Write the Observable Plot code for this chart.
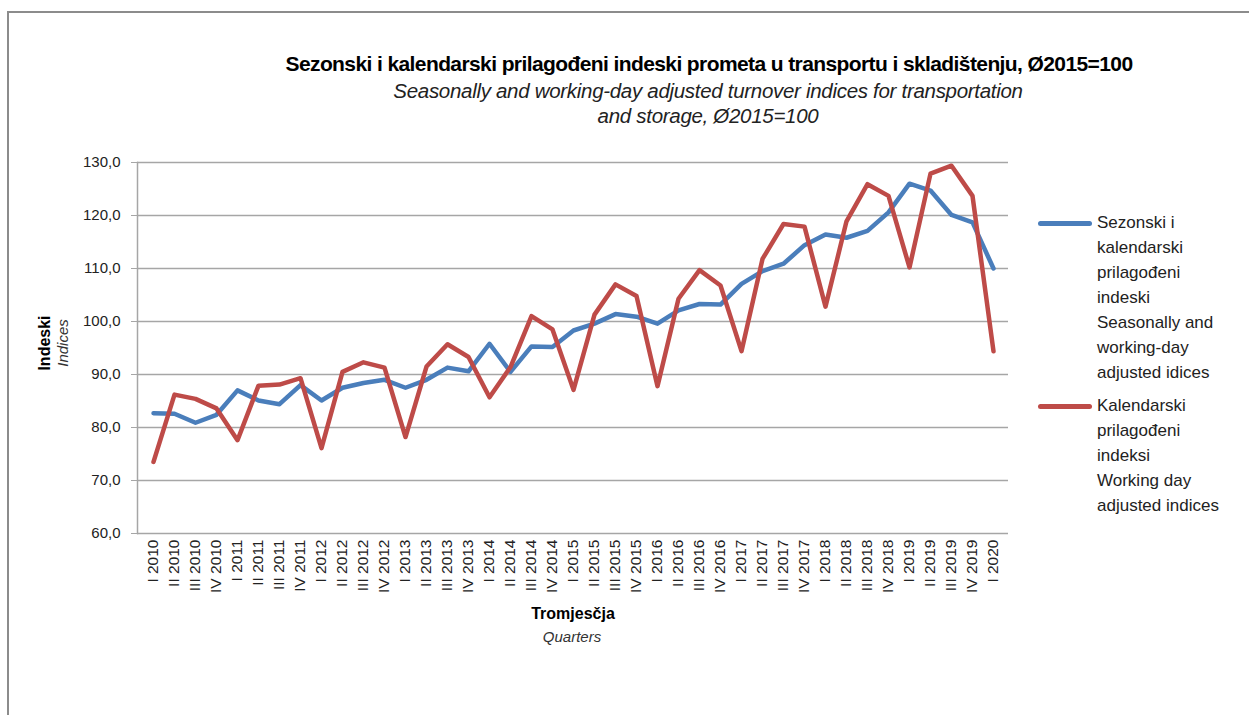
<!DOCTYPE html>
<html>
<head>
<meta charset="utf-8">
<script src="https://cdn.jsdelivr.net/npm/d3@7"></script>
<script src="https://cdn.jsdelivr.net/npm/@observablehq/plot@0.6"></script>
<style>
  html, body { margin: 0; padding: 0; background: #fff; }
  #wrap { position: relative; width: 1249px; height: 715px; overflow: hidden; font-family: "Liberation Sans", Arial, sans-serif; color: #000; }
  #border { position: absolute; left: 7px; top: 11px; width: 1300px; height: 800px; border-left: 2px solid #8c8c8c; border-top: 2px solid #8c8c8c; }
  .t { position: absolute; white-space: nowrap; transform: translateX(-50%); text-align: center; }
  #title { left: 709px; top: 52px; font-family: "Liberation Sans", Arial, sans-serif; font-weight: bold; font-size: 21px; letter-spacing: -0.6px; }
  #sub { left: 708px; top: 78px; font-family: "Liberation Sans", Arial, sans-serif; font-style: italic; font-size: 20.5px; letter-spacing: -0.3px; line-height: 25px; color: #222; }
  #chart { position: absolute; left: 0; top: 0; }
  .ylab { position: absolute; transform-origin: center; white-space: nowrap; }
  #legend { position: absolute; left: 1038px; top: 210px; font-size: 17px; line-height: 25px; color: #222; }
  .item { display: flex; align-items: flex-start; margin-bottom: 8px; }
  .sw { width: 54px; height: 5px; border-radius: 3px; margin-top: 11px; margin-right: 5px; flex: none; }
</style>
</head>
<body>
<div id="wrap">
  <div id="border"></div>
  <div id="chart"></div>
  <div class="t" id="title">Sezonski i kalendarski prilagođeni indeski prometa u transportu i skladištenju, Ø2015=100</div>
  <div class="t" id="sub">Seasonally and working-day adjusted turnover indices for transportation<br>and storage, Ø2015=100</div>
  <div class="ylab" style="left:45px; top:343px; transform: translate(-50%,-50%) rotate(-90deg); font-weight:bold; font-size:16px;">Indeski</div>
  <div class="ylab" style="left:62px; top:343px; transform: translate(-50%,-50%) rotate(-90deg); font-style:italic; font-size:15px; color:#333;">Indices</div>
  <div class="t" style="left:573px; top:605px; font-weight:bold; font-size:16px;">Tromjesčja</div>
  <div class="t" style="left:572px; top:628px; font-style:italic; font-size:15px; color:#333;">Quarters</div>
  <div id="legend"></div>
</div>
<script>
const quarters = [
  "I 2010","II 2010","III 2010","IV 2010",
  "I 2011","II 2011","III 2011","IV 2011",
  "I 2012","II 2012","III 2012","IV 2012",
  "I 2013","II 2013","III 2013","IV 2013",
  "I 2014","II 2014","III 2014","IV 2014",
  "I 2015","II 2015","III 2015","IV 2015",
  "I 2016","II 2016","III 2016","IV 2016",
  "I 2017","II 2017","III 2017","IV 2017",
  "I 2018","II 2018","III 2018","IV 2018",
  "I 2019","II 2019","III 2019","IV 2019",
  "I 2020"
];
const seasonal = [82.7, 82.6, 80.9, 82.4, 87.0, 85.1, 84.4, 88.0, 85.1, 87.5,
  88.4, 89.0, 87.5, 89.0, 91.3, 90.6, 95.8, 90.5, 95.3, 95.2,
  98.3, 99.6, 101.4, 100.9, 99.6, 102.1, 103.3, 103.2, 107.1, 109.5,
  110.9, 114.4, 116.4, 115.8, 117.1, 120.6, 126.0, 124.7, 120.1, 118.7,
  110.0];
const working = [73.5, 86.2, 85.4, 83.6, 77.6, 87.9, 88.1, 89.3, 76.1, 90.5,
  92.3, 91.3, 78.2, 91.5, 95.7, 93.3, 85.7, 91.4, 101.0, 98.5,
  87.1, 101.3, 107.0, 104.8, 87.8, 104.3, 109.7, 106.8, 94.4, 111.8,
  118.4, 117.9, 102.8, 118.9, 125.9, 123.7, 110.2, 127.9, 129.4, 123.7,
  94.4];
const yTicks = [60, 70, 80, 90, 100, 110, 120, 130];
const seriesNames = [
  "Sezonski i<br>kalendarski<br>prilagođeni<br>indeski<br>Seasonally and<br>working-day<br>adjusted idices",
  "Kalendarski<br>prilagođeni<br>indeksi<br>Working day<br>adjusted indices"
];
const seriesColors = ["#4a7ebb", "#be4b48"];

const sData = quarters.map((q, i) => ({q, v: seasonal[i]}));
const wData = quarters.map((q, i) => ({q, v: working[i]}));
const fmt = d => d.toFixed(1).replace(".", ",");

const chart = Plot.plot({
  width: 1249,
  height: 715,
  marginLeft: 137,
  marginRight: 241,
  marginTop: 162,
  marginBottom: 182,
  style: {fontFamily: "'Liberation Sans', Arial, sans-serif", fontSize: "15px", color: "#000", background: "transparent"},
  x: {type: "point", domain: quarters, padding: 0.5, label: null},
  y: {domain: [60, 130], label: null},
  marks: [
    Plot.gridY(yTicks, {stroke: "#a6a6a6", strokeOpacity: 1, strokeWidth: 1.5}),
    Plot.frame({anchor: "left", stroke: "#a6a6a6", strokeWidth: 1.5}),
    Plot.axisY(yTicks, {tickSize: 6, tickPadding: 11, tickFormat: fmt, stroke: "#a6a6a6", fill: "#222", fontSize: 15}),
    Plot.axisX({tickRotate: -90, tickSize: 0, tickPadding: 6, fill: "#222", fontSize: 15.5}),
    Plot.lineY(sData, {x: "q", y: "v", stroke: seriesColors[0], strokeWidth: 4.5}),
    Plot.lineY(wData, {x: "q", y: "v", stroke: seriesColors[1], strokeWidth: 4.5})
  ]
});
document.getElementById("chart").appendChild(chart);

const legend = document.getElementById("legend");
seriesNames.forEach((name, i) => {
  const item = document.createElement("div");
  item.className = "item";
  item.innerHTML = `<div class="sw" style="background:${seriesColors[i]}"></div><div>${name}</div>`;
  legend.appendChild(item);
});
</script>
</body>
</html>
